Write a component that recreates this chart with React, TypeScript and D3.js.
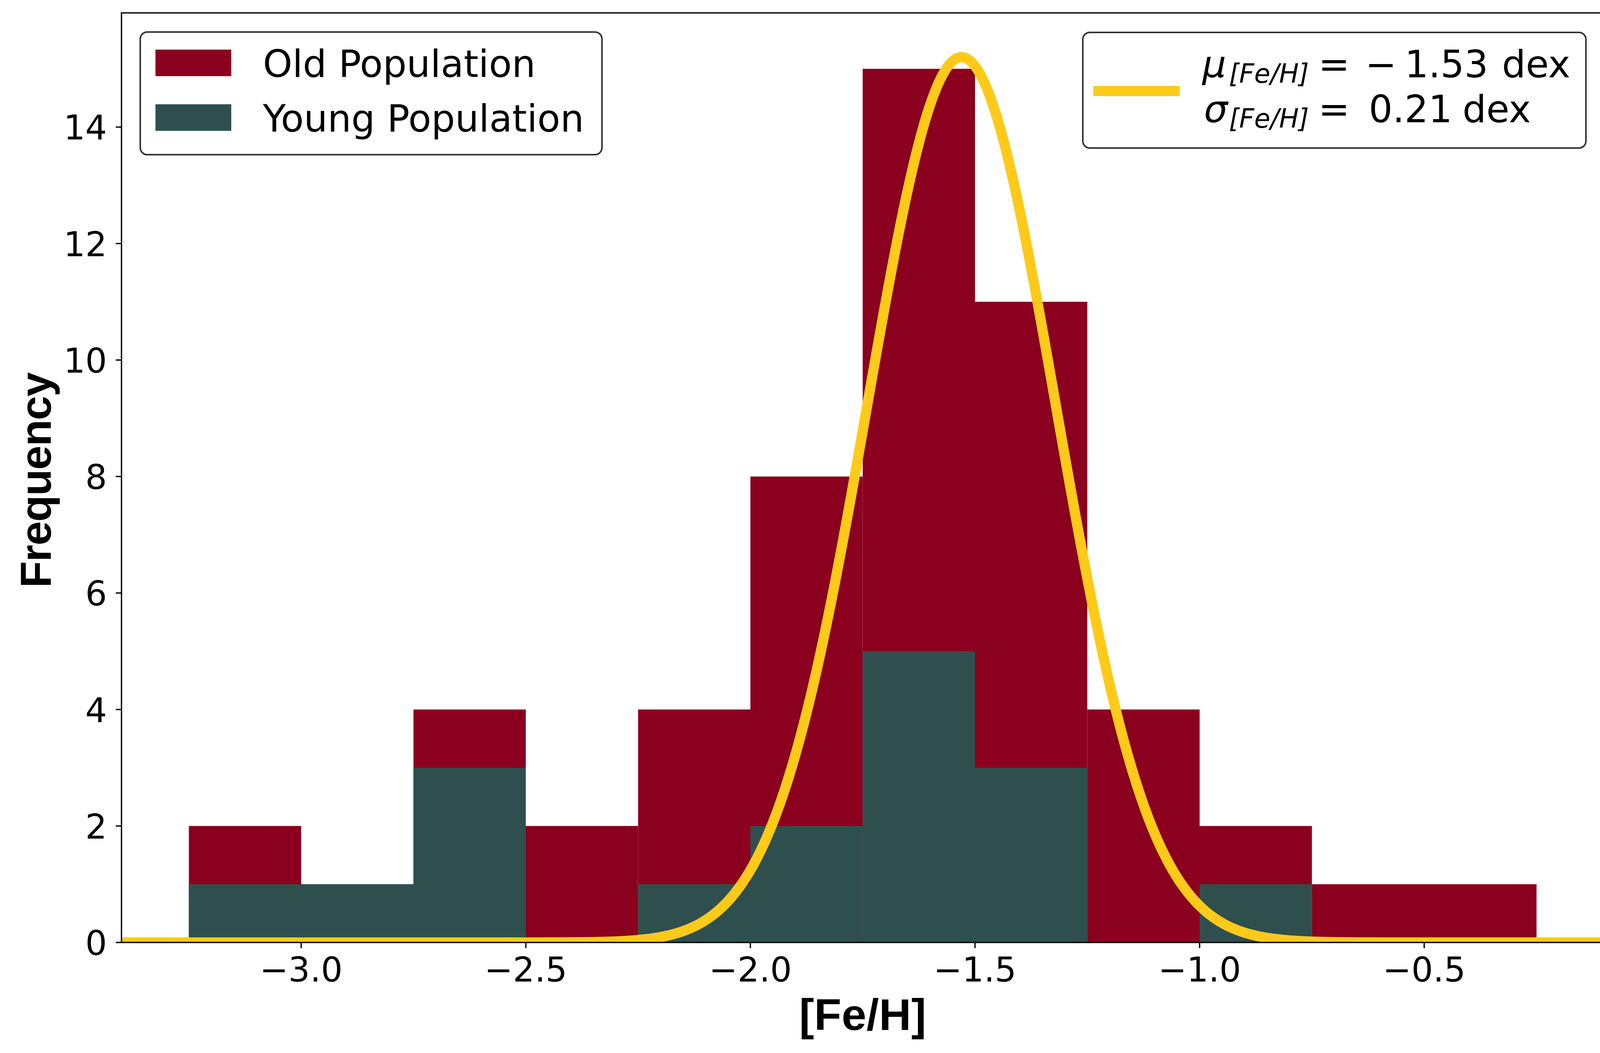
import * as d3 from "d3";

// histogram bins ([Fe/H], width 0.25 dex)
const binEdges = [-3.25, -3.0, -2.75, -2.5, -2.25, -2.0, -1.75, -1.5, -1.25, -1.0, -0.75, -0.5, -0.25];
const oldCounts = [2, 1, 4, 2, 4, 8, 15, 11, 4, 2, 1, 1];
const youngCounts = [1, 1, 3, 0, 1, 2, 5, 3, 0, 1, 0, 0];

// gaussian fit shown in the legend
const fitMu = -1.53;
const fitSigma = 0.21;
const fitPeak = 15.2;

const xTicks = [-3.0, -2.5, -2.0, -1.5, -1.0, -0.5];
const yTicks = [0, 2, 4, 6, 8, 10, 12, 14];

const OLD = "#8a001e";
const YOUNG = "#2f4f4f";
const GOLD = "#fdca1a";

const width = 4143;
const height = 2696;
const marginLeft = 311;
const marginRight = 37;
const marginTop = 33;
const marginBottom = 283;

const tickFont = "'DejaVu Sans', sans-serif";
const labelFont = "'Liberation Sans', Arial, sans-serif";

export default function App() {
  const x = d3.scaleLinear().domain([-3.4, -0.1]).range([marginLeft, width - marginRight]);
  const y = d3.scaleLinear().domain([0, 15.96]).range([height - marginBottom, marginTop]);

  const bins = oldCounts.map((c, i) => ({
    x0: binEdges[i],
    x1: binEdges[i + 1],
    old: c,
    young: youngCounts[i],
  }));

  const gauss = (v: number) => fitPeak * Math.exp(-0.5 * ((v - fitMu) / fitSigma) ** 2);
  const curveXs = d3.range(-3.6, 0.1, 0.002);
  const curve = d3.line<number>().x((v) => x(v)).y((v) => y(gauss(v)))(curveXs) ?? "";

  const [x0, x1] = x.range();
  const [yb, yt] = y.range();

  const fontSizeTick = 87.5;
  const fontSizeLegend = 96;
  const fontSizeSub = 67;

  return (
    <svg
      width={width}
      height={height}
      viewBox={`0 0 ${width} ${height}`}
      style={{ position: "absolute", left: 0, top: 0, background: "white" }}
    >
      <defs>
        <clipPath id="plot-area">
          <rect x={x0} y={yt} width={x1 - x0} height={yb - yt} />
        </clipPath>
      </defs>

      <g clipPath="url(#plot-area)">
        <g className="old" fill={OLD}>
          {bins.map((b, i) => (
            <rect key={i} x={x(b.x0)} y={y(b.old)} width={x(b.x1) - x(b.x0)} height={y(0) - y(b.old)} />
          ))}
        </g>
        <g className="young" fill={YOUNG}>
          {bins.map((b, i) => (
            <rect key={i} x={x(b.x0)} y={y(b.young)} width={x(b.x1) - x(b.x0)} height={y(0) - y(b.young)} />
          ))}
        </g>
        <path d={curve} fill="none" stroke={GOLD} strokeWidth={26} strokeLinejoin="round" />
      </g>

      {/* spines */}
      <rect x={x0} y={yt} width={x1 - x0} height={yb - yt} fill="none" stroke="black" strokeWidth={3.33} />

      {/* x axis */}
      <g className="xaxis" fontFamily={tickFont} fontSize={fontSizeTick} textAnchor="middle">
        {xTicks.map((t) => (
          <g key={t} transform={`translate(${x(t)},${yb})`}>
            <line y2={14.6} stroke="black" strokeWidth={3.33} />
            <text y={100}>{d3.format(".1f")(t).replace("-", "\u2212")}</text>
          </g>
        ))}
      </g>

      {/* y axis */}
      <g className="yaxis" fontFamily={tickFont} fontSize={fontSizeTick} textAnchor="end">
        {yTicks.map((t) => (
          <g key={t} transform={`translate(${x0},${y(t)})`}>
            <line x2={-14.6} stroke="black" strokeWidth={3.33} />
            <text x={-37} y={32}>{t}</text>
          </g>
        ))}
      </g>

      <text
        x={(x0 + x1) / 2}
        y={2637}
        textAnchor="middle"
        fontFamily={labelFont}
        fontWeight="bold"
        fontSize={114}
        textLength={325}
        lengthAdjust="spacing"
      >
        [Fe/H]
      </text>
      <text
        transform={`translate(130,${(yb + yt) / 2 + 6}) rotate(-90)`}
        textAnchor="middle"
        fontFamily={labelFont}
        fontWeight="bold"
        fontSize={112}
        textLength={552}
        lengthAdjust="spacing"
      >
        Frequency
      </text>

      {/* population legend */}
      <g className="legend-pop" fontFamily={tickFont} fontSize={fontSizeLegend}>
        <rect x={359} y={82} width={1182} height={314} rx={18} fill="white" stroke="#333" strokeWidth={4} />
        {[
          { label: "Old Population", color: OLD, base: 197 },
          { label: "Young Population", color: YOUNG, base: 337 },
        ].map((d) => (
          <g key={d.label}>
            <rect x={398} y={d.base - 70} width={194} height={68} fill={d.color} />
            <text x={673} y={d.base}>
              {d.label}
            </text>
          </g>
        ))}
      </g>

      {/* fit legend */}
      <g className="legend-fit" fontFamily={tickFont} fontSize={fontSizeLegend}>
        <rect x={2772} y={83} width={1288} height={296} rx={18} fill="white" stroke="#333" strokeWidth={4} />
        <line x1={2812} x2={3007} y1={233} y2={233} stroke={GOLD} strokeWidth={26} strokeLinecap="square" />
        <text y={198}>
          <tspan x={3078} fontStyle="italic">μ</tspan>
          <tspan x={3146} y={212} fontStyle="italic" fontSize={fontSizeSub}>[Fe/H]</tspan>
          <tspan x={3375} y={198}>=</tspan>
          <tspan x={3495}>{"\u2212"}</tspan>
          <tspan x={3596}>{Math.abs(fitMu).toFixed(2)}</tspan>
          <tspan x={3845}>dex</tspan>
        </text>
        <text y={313}>
          <tspan x={3082} fontStyle="italic">σ</tspan>
          <tspan x={3146} y={327} fontStyle="italic" fontSize={fontSizeSub}>[Fe/H]</tspan>
          <tspan x={3375} y={313}>=</tspan>
          <tspan x={3504}>{fitSigma.toFixed(2)}</tspan>
          <tspan x={3744}>dex</tspan>
        </text>
      </g>
    </svg>
  );
}
